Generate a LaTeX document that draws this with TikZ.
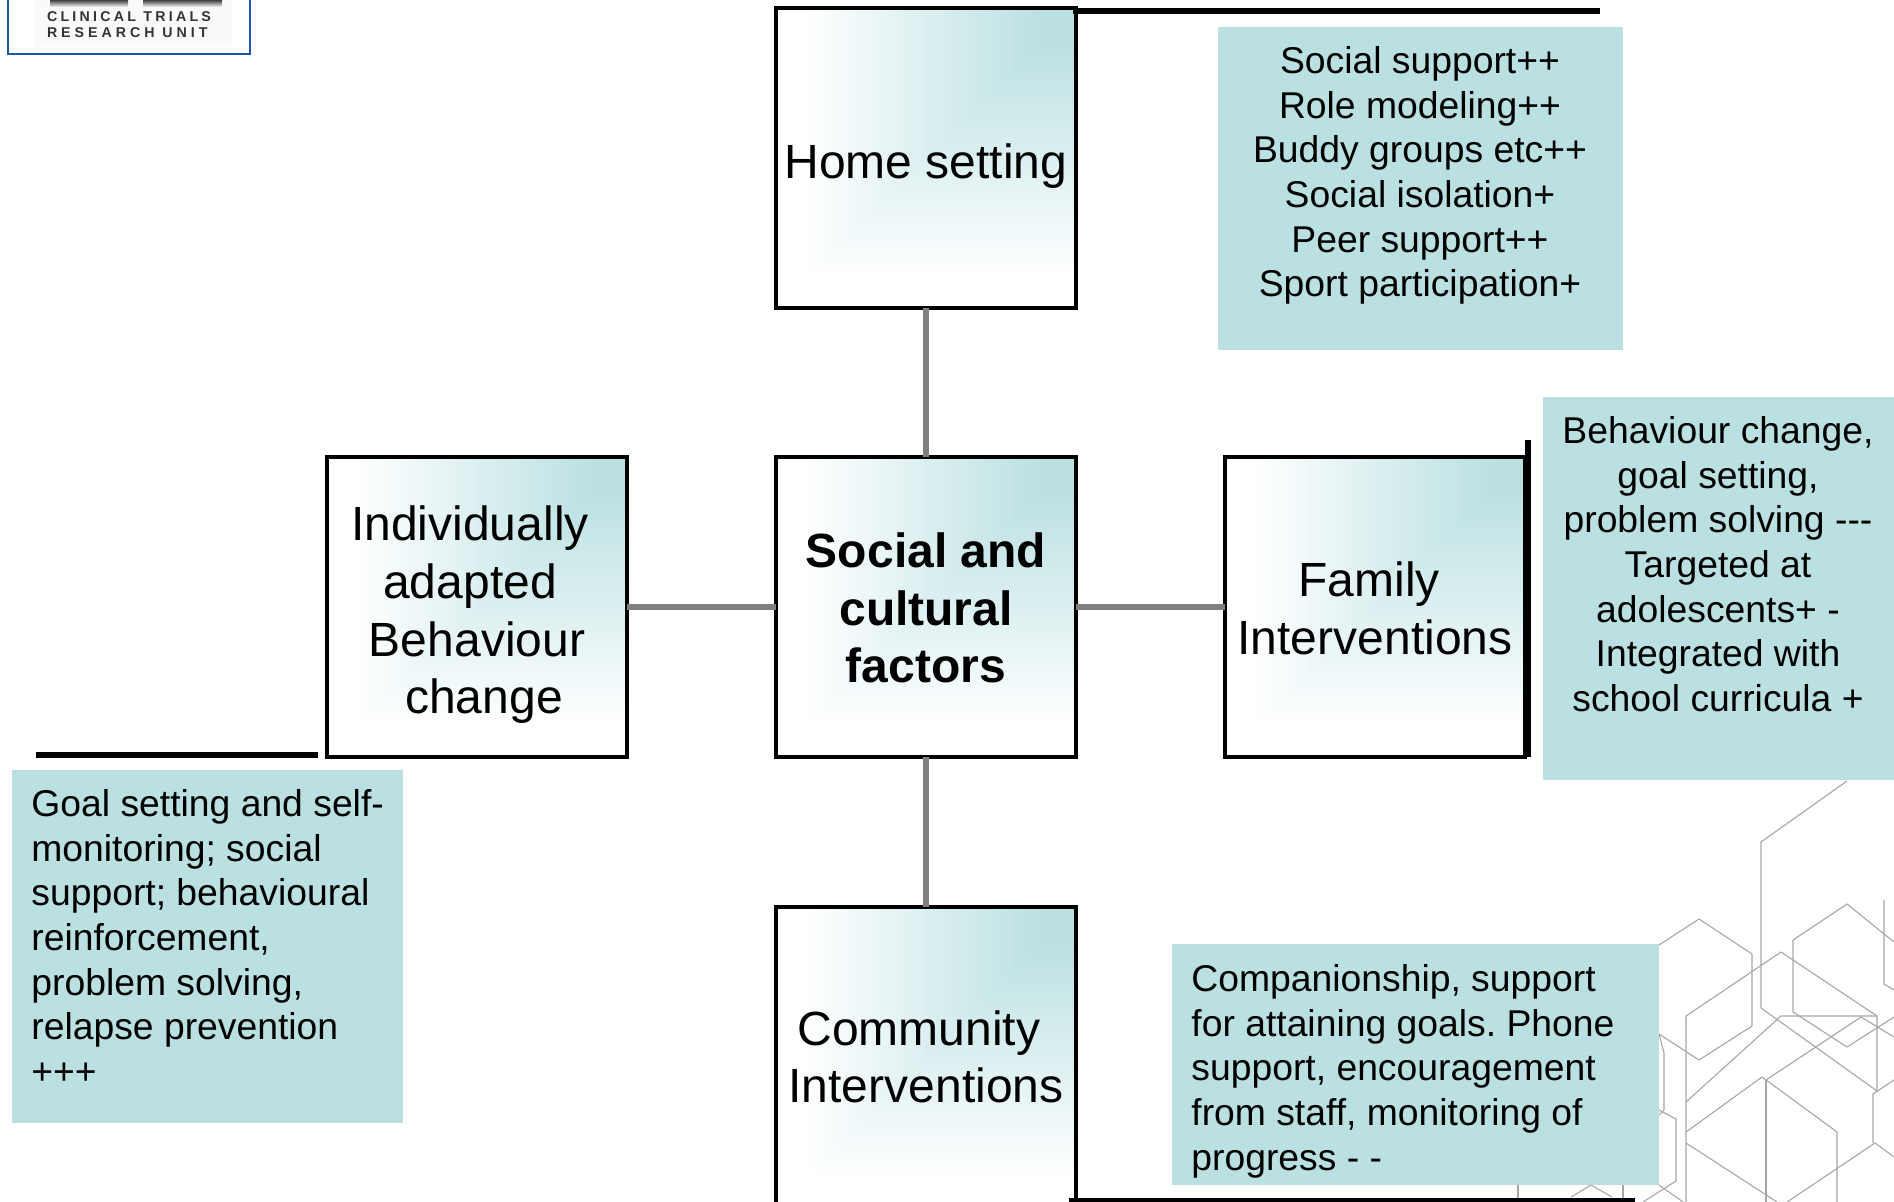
\documentclass[tikz,border=0pt]{standalone}
\usepackage{fontspec}
\setmainfont{Liberation Sans}
\usepackage{tikz}
\usetikzlibrary{positioning}

\definecolor{notefill}{HTML}{BAE0E2}
\definecolor{hexgray}{HTML}{A6A6A6}
\definecolor{linkgray}{HTML}{808080}
\definecolor{logoblue}{HTML}{1F56A8}
\definecolor{logotext}{HTML}{333333}

% white towards the lower left, teal in the upper right corner
\pgfdeclarefunctionalshading{cornerteal}{\pgfpoint{0bp}{0bp}}{\pgfpoint{100bp}{100bp}}{}{
  75 exch sub exch 75 exch sub 2 copy lt {exch} if pop 5 sub 40 div
  dup 0 lt {pop 0} if dup 1 gt {pop 1} if
  dup .271 mul .729 add exch dup .122 mul .878 add exch .114 mul .886 add
}

\tikzset{
  factorbox/.style={draw=black, line width=1.75pt, shade, shading=cornerteal, minimum width=150pt,
    minimum height=150pt, outer sep=0pt, inner sep=0pt, align=center, font=\fontsize{24pt}{28.8pt}\selectfont},
  notetext/.style={inner sep=0pt, anchor=north, font=\fontsize{18.65pt}{22.35pt}\selectfont\frenchspacing},
  barline/.style={line width=3pt, black},
  linkline/.style={line width=2.9pt, linkgray},
  hexline/.style={line width=0.55pt, hexgray, line join=round}
}

\begin{document}
\begin{tikzpicture}[x=0.5pt, y=-0.5pt]
  \useasboundingbox (0,0) rectangle (1894,1202);
  \clip (0,0) rectangle (1894,1202);

  % Hexagons in the corner
  \foreach \hexpath in {
    {(1847,781) -- (1761,842) -- (1761,1008) -- (1877,1091)},
    {(1659,945) -- (1699,919) -- (1752,954) -- (1752,1026) -- (1699,1060) -- (1659,1034)},
    {(1686,1102) -- (1781,1016) -- (1877,1016) -- (1877,1091)},
    {(1686,1202) -- (1686,1016) -- (1781,952) -- (1877,1016)},
    {(1894,942) -- (1847,904) -- (1793,940) -- (1793,1012) -- (1847,1047) -- (1894,1017)},
    {(1884,900) -- (1884,984) -- (1894,990)},
    {(1766,1080) -- (1861,1017) -- (1894,1037)},
    {(1766,1202) -- (1766,1080)},
    {(1686,1132) -- (1762,1077) -- (1837,1132) -- (1837,1202)},
    {(1686,1143) -- (1777,1202)},
    {(1787,1202) -- (1875,1143) -- (1894,1157)},
    {(1894,1080) -- (1873,1094) -- (1873,1143)},
    {(1659,1034) -- (1664,1053) -- (1664,1110) -- (1659,1115)},
    {(1659,1110) -- (1676,1119) -- (1676,1181) -- (1643,1202)},
    {(1659,1185) -- (1683,1202)},
    {(1518,1185) -- (1518,1202)},
    {(1623,1185) -- (1623,1202)},
    {(1571,1197) -- (1591,1185) -- (1612,1197)}
  } {
    \draw[hexline] \hexpath;
  }

  % Logo in the corner
  \fill[black!2] (33,0) rectangle (232,47);
  \shade[top color=black!75, bottom color=black!2] (50,0) rectangle (128,7);
  \shade[top color=black!75, bottom color=black!2] (143,0) rectangle (222,7);
  \draw[logoblue, line width=1.25pt] (8,-10) rectangle (250,54);
  \node[logotext, inner sep=0pt, font=\bfseries\fontsize{7.1pt}{8pt}\selectfont, align=left] (logo) at (129,25)
    {\addfontfeatures{LetterSpace=23}CLINICAL TRIALS\\\addfontfeatures{LetterSpace=28}RESEARCH UNIT};

  % Factor boxes
  \node[factorbox] (home) at (926,158) {Home setting\\[-31.8pt]};
  \node[factorbox, font=\bfseries\fontsize{24pt}{28.8pt}\selectfont] (social) at (926,607) {Social and\\cultural\\factors\\[-29.8pt]};
  \node[factorbox] (adapted) at (477,607) {Individually\kern7pt\\adapted\kern7pt\\Behaviour\\\kern7pt change\\[-31.8pt]};
  \node[factorbox] (family) at (1375,607) {Family\kern6pt\\Interventions\\[-29.8pt]};
  \node[factorbox] (community) at (926,1057) {Community\kern7pt\\Interventions};

  % Links
  \draw[linkline] (home) -- (social);
  \draw[linkline] (adapted) -- (social);
  \draw[linkline] (social) -- (family);
  \draw[linkline] (social) -- (community);

  % Heavy bars next to the boxes
  \coordinate (homestart) at (1073,11);
  \coordinate (homeend) at (1600,11);
  \coordinate (familytop) at (1528,440);
  \coordinate (familyend) at (1528,757);
  \coordinate (adaptedstart) at (36,755);
  \coordinate (adaptedend) at (318,755);
  \coordinate (communitystart) at (1069,1201);
  \coordinate (communityend) at (1635,1201);
  \draw[barline] (homestart) -- (homeend);
  \draw[barline] (familytop) -- (familyend);
  \draw[barline] (adaptedstart) -- (adaptedend);
  \draw[barline] (communitystart) -- (communityend);

  % Notes
  \fill[notefill] (1218,27) rectangle (1623,350);
  \fill[notefill] (1543,397) rectangle (1894,780);
  \fill[notefill] (12,770) rectangle (403,1123);
  \fill[notefill] (1172,944) rectangle (1659,1185);

  \node[notetext, align=center] (homenote) at (1420,46)
    {Social support++\\Role modeling++\\Buddy groups etc++\\Social isolation+\\Peer support++\\Sport participation+};
  \node[notetext, align=center] (familynote) at (1718,416)
    {Behaviour change,\\goal setting,\\problem solving -{}-{}-\\Targeted at\\adolescents+ -\\Integrated with\\school curricula +};
  \node[notetext, align=left, anchor=north west] (adaptednote) at (31,789)
    {Goal setting and self-\\monitoring; social\\support; behavioural\\reinforcement,\\problem solving,\\relapse prevention\\+++};
  \node[notetext, align=left, anchor=north west] (communitynote) at (1191,964)
    {Companionship, support\\for attaining goals. Phone\\support, encouragement\\from staff, monitoring of\\progress - -};
\end{tikzpicture}
\end{document}
